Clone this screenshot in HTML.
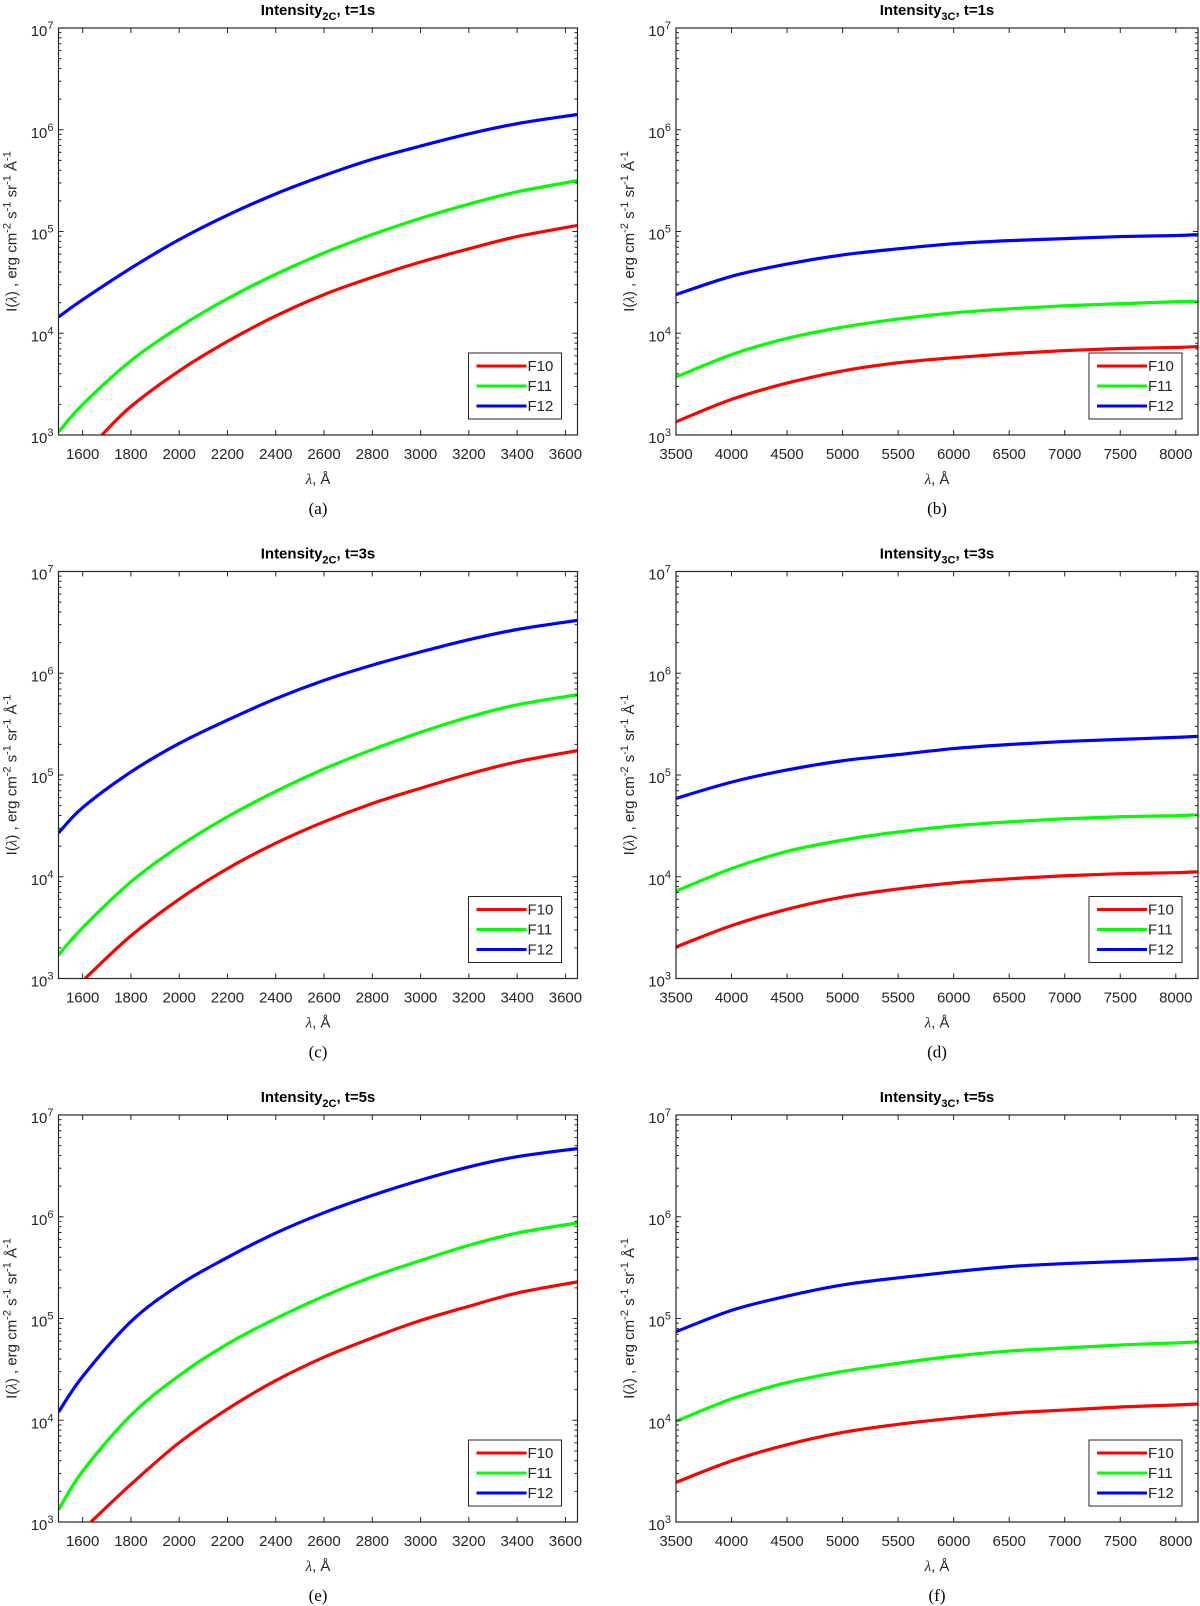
<!DOCTYPE html>
<html><head><meta charset="utf-8">
<style>
html,body{margin:0;padding:0;background:#fff;}
svg{display:block;font-family:"Liberation Sans",Arial,sans-serif;}
.tk{font-size:15px;fill:#262626;}
.ttl{font-size:15px;font-weight:bold;fill:#000;}
.cap{font-family:"Liberation Serif",serif;font-size:17px;fill:#000;}
</style></head>
<body>
<svg id="fig" width="1200" height="1606" viewBox="0 0 1200 1606" xmlns="http://www.w3.org/2000/svg"></svg>
<script>
// ---- data (log10 of intensity) ----
const uvWavelengths = [1500,1600,1800,2000,2200,2400,2600,2800,3000,3200,3400,3650];
const visWavelengths = [3500,4000,4500,5000,5500,6000,6500,7000,7500,8000,8200];
// panel a (2C, t=1s)
const aF12 = [4.16,4.33,4.64,4.92,5.16,5.37,5.55,5.71,5.84,5.96,6.06,6.15];
const aF11 = [3.03,3.30,3.73,4.06,4.34,4.58,4.79,4.97,5.13,5.27,5.39,5.50];
const aF10x = [1680,1800,2000,2200,2400,2600,2800,3000,3200,3400,3650];
const aF10 = [3.0,3.28,3.63,3.92,4.17,4.38,4.55,4.70,4.83,4.95,5.06];
// panel c (2C, t=3s)
const cF12 = [4.43,4.68,5.03,5.31,5.54,5.75,5.93,6.08,6.21,6.33,6.43,6.52];
const cF11 = [3.23,3.50,3.95,4.30,4.59,4.84,5.06,5.25,5.42,5.57,5.69,5.79];
const cF10x = [1610,1800,2000,2200,2400,2600,2800,3000,3200,3400,3650];
const cF10 = [3.0,3.42,3.78,4.08,4.33,4.54,4.72,4.87,5.01,5.13,5.24];
// panel e (2C, t=5s)
const eF12 = [4.08,4.43,4.97,5.33,5.60,5.84,6.04,6.21,6.36,6.49,6.59,6.67];
const eF11 = [3.12,3.50,4.05,4.44,4.75,5.00,5.22,5.41,5.57,5.72,5.84,5.94];
const eF10x = [1634,1800,2000,2200,2400,2600,2800,3000,3200,3400,3650];
const eF10 = [3.0,3.37,3.78,4.11,4.39,4.62,4.81,4.98,5.12,5.25,5.36];
// panel b (3C, t=1s)
const bF12 = [4.38,4.56,4.68,4.77,4.83,4.88,4.91,4.93,4.95,4.96,4.97];
const bF11 = [3.57,3.79,3.95,4.06,4.14,4.20,4.24,4.27,4.29,4.31,4.31];
const bF10 = [3.13,3.35,3.51,3.63,3.71,3.76,3.80,3.83,3.85,3.86,3.87];
// panel d (3C, t=3s)
const dF12 = [4.77,4.93,5.05,5.14,5.20,5.26,5.30,5.33,5.35,5.37,5.38];
const dF11 = [3.86,4.08,4.25,4.36,4.44,4.50,4.54,4.57,4.59,4.60,4.61];
const dF10 = [3.31,3.52,3.68,3.80,3.88,3.94,3.98,4.01,4.03,4.04,4.05];
// panel f (3C, t=5s)
const fF12 = [4.87,5.08,5.22,5.33,5.40,5.46,5.51,5.54,5.56,5.58,5.59];
const fF11 = [3.99,4.21,4.37,4.48,4.56,4.63,4.68,4.71,4.74,4.76,4.77];
const fF10 = [3.39,3.60,3.76,3.88,3.96,4.02,4.07,4.10,4.13,4.15,4.16];
const uvTicks = [1600,1800,2000,2200,2400,2600,2800,3000,3200,3400,3600];
const visTicks = [3500,4000,4500,5000,5500,6000,6500,7000,7500,8000];
const yExponents = [3,4,5,6,7];
const seriesNames = ["F10","F11","F12"];
const seriesColors = ["#ff0000","#00ff00","#0000ff"];

const NS="http://www.w3.org/2000/svg";
const svg=document.getElementById('fig');
function mk(tag,attrs,parent){const e=document.createElementNS(NS,tag);for(const k in attrs)e.setAttribute(k,attrs[k]);(parent||svg).appendChild(e);return e;}
function smooth(pts){
  let d=`M${pts[0][0]},${pts[0][1]}`;
  for(let i=0;i<pts.length-1;i++){
    const p0=pts[Math.max(0,i-1)],p1=pts[i],p2=pts[i+1],p3=pts[Math.min(pts.length-1,i+2)];
    const c1=[p1[0]+(p2[0]-p0[0])/6,p1[1]+(p2[1]-p0[1])/6];
    const c2=[p2[0]-(p3[0]-p1[0])/6,p2[1]-(p3[1]-p1[1])/6];
    d+=` C${c1[0]},${c1[1]} ${c2[0]},${c2[1]} ${p2[0]},${p2[1]}`;
  }
  return d;
}

const panels=[
 {id:'a',L:58.5,R:577.5,T:28,xmin:1500,xmax:3650,ticks:uvTicks,sub:'2C',t:'1',series:[[aF10x,aF10],[uvWavelengths,aF11],[uvWavelengths,aF12]]},
 {id:'b',L:676,R:1198,T:28,xmin:3500,xmax:8200,ticks:visTicks,sub:'3C',t:'1',series:[[visWavelengths,bF10],[visWavelengths,bF11],[visWavelengths,bF12]]},
 {id:'c',L:58.5,R:577.5,T:571.5,xmin:1500,xmax:3650,ticks:uvTicks,sub:'2C',t:'3',series:[[cF10x,cF10],[uvWavelengths,cF11],[uvWavelengths,cF12]]},
 {id:'d',L:676,R:1198,T:571.5,xmin:3500,xmax:8200,ticks:visTicks,sub:'3C',t:'3',series:[[visWavelengths,dF10],[visWavelengths,dF11],[visWavelengths,dF12]]},
 {id:'e',L:58.5,R:577.5,T:1115,xmin:1500,xmax:3650,ticks:uvTicks,sub:'2C',t:'5',series:[[eF10x,eF10],[uvWavelengths,eF11],[uvWavelengths,eF12]]},
 {id:'f',L:676,R:1198,T:1115,xmin:3500,xmax:8200,ticks:visTicks,sub:'3C',t:'5',series:[[visWavelengths,fF10],[visWavelengths,fF11],[visWavelengths,fF12]]}
];
const H=407;

panels.forEach(p=>{
  const g=mk('g',{});
  
  
  const B=p.T+H;
  const xs=v=>p.L+(v-p.xmin)/(p.xmax-p.xmin)*(p.R-p.L);
  const ys=lg=>B-(lg-3)/4*H;
  const cp=mk('clipPath',{id:'clip'+p.id},g);
  mk('rect',{x:p.L,y:p.T,width:p.R-p.L,height:H},cp);
  const sg=mk('g',{'clip-path':`url(#clip${p.id})`},g);
  p.series.forEach((s,i)=>{
    const pts=s[0].map((x,j)=>[xs(x),ys(s[1][j])]);
    const path=mk('path',{d:smooth(pts),fill:'none',stroke:seriesColors[i],'stroke-width':3.2,'stroke-linejoin':'round'},sg);
    
    
  });
  const box=mk('rect',{x:p.L,y:p.T,width:p.R-p.L,height:H,fill:'none',stroke:'#262626','stroke-width':1.2},g);
  
  
  p.ticks.forEach(v=>{
    const x=xs(v);
    mk('line',{x1:x,x2:x,y1:B,y2:B-5,stroke:'#262626','stroke-width':1},g);
    mk('line',{x1:x,x2:x,y1:p.T,y2:p.T+5,stroke:'#262626','stroke-width':1},g);
    const t=mk('text',{x:x,y:B+24,'text-anchor':'middle',class:'tk'},g);
    t.textContent=v;
    
    
  });
  yExponents.forEach(e=>{
    const y=ys(e);
    mk('line',{x1:p.L,x2:p.L+5,y1:y,y2:y,stroke:'#262626','stroke-width':1},g);
    mk('line',{x1:p.R,x2:p.R-5,y1:y,y2:y,stroke:'#262626','stroke-width':1},g);
    if(e<7){for(let m=2;m<10;m++){const yy=ys(e+Math.log10(m));
      mk('line',{x1:p.L,x2:p.L+3,y1:yy,y2:yy,stroke:'#262626','stroke-width':1},g);
      mk('line',{x1:p.R,x2:p.R-3,y1:yy,y2:yy,stroke:'#262626','stroke-width':1},g);}}
    const t=mk('text',{x:p.L-5,y:y+8,'text-anchor':'end',class:'tk'},g);
    t.innerHTML='10<tspan dy="-7" font-size="11">'+e+'</tspan>';
    
    
  });
  const cx=(p.L+p.R)/2;
  const tt=mk('text',{x:cx,y:p.T-13,'text-anchor':'middle',class:'ttl'},g);
  tt.innerHTML='Intensity<tspan dy="5" font-size="11">'+p.sub+'</tspan><tspan dy="-5">, t='+p.t+'s</tspan>';
  
  
  const xl=mk('text',{x:cx,y:B+49,'text-anchor':'middle',class:'tk'},g);
  xl.innerHTML='<tspan font-family="Liberation Serif,serif" font-style="italic">λ</tspan>, Å';
  
  
  const yx=p.L-42, yc=(p.T+B)/2;
  const yl=mk('text',{x:yx,y:yc,'text-anchor':'middle',class:'tk',transform:`rotate(-90 ${yx} ${yc})`},g);
  yl.innerHTML='I(<tspan font-family="Liberation Serif,serif" font-style="italic">λ</tspan>) , erg cm<tspan dy="-6" font-size="11">-2</tspan><tspan dy="6"> s</tspan><tspan dy="-6" font-size="11">-1</tspan><tspan dy="6"> sr</tspan><tspan dy="-6" font-size="11">-1</tspan><tspan dy="6"> Å</tspan><tspan dy="-6" font-size="11">-1</tspan>';
  
  
  const cap=mk('text',{x:cx,y:B+79,'text-anchor':'middle',class:'cap'},g);
  cap.textContent='('+p.id+')';
  
  
  const lw=93,lh=66,lx=p.R-16-lw,ly=B-16-lh;
  const lg=mk('g',{},g);
  
  
  mk('rect',{x:lx,y:ly,width:lw,height:lh,fill:'#fff',stroke:'#262626','stroke-width':1},lg);
  seriesNames.forEach((n,i)=>{
    const yy=ly+13+i*20;
    const en=mk('g',{},lg);
    
    
    mk('line',{x1:lx+8,x2:lx+58,y1:yy,y2:yy,stroke:seriesColors[i],'stroke-width':3},en);
    const t=mk('text',{x:lx+59,y:yy+5,class:'tk'},en);
    t.textContent=n;
  });
});
</script>
</body></html>
